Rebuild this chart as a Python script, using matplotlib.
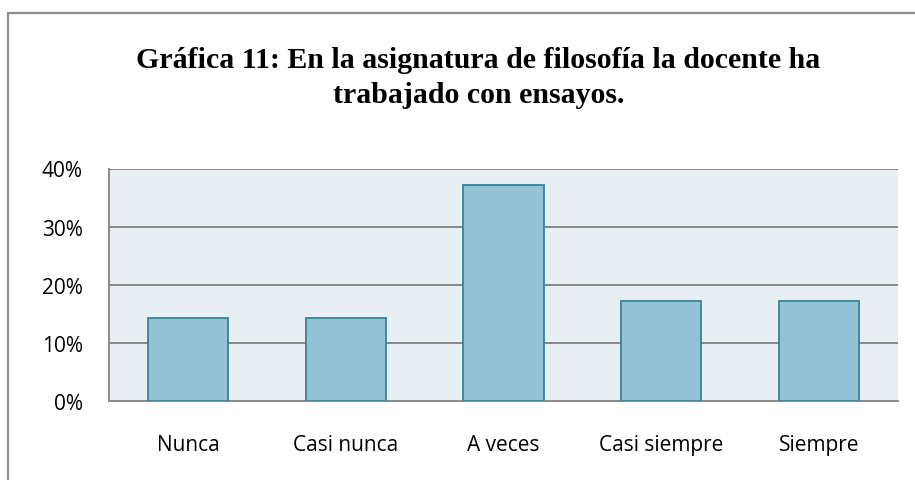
import numpy as np
import matplotlib.pyplot as plt
from matplotlib.patches import Rectangle
from matplotlib.ticker import FuncFormatter

# Data
categories = ["Nunca", "Casi nunca", "A veces", "Casi siempre", "Siempre"]
percent = [14.29, 14.29, 37.14, 17.14, 17.14]
yticks = [0, 10, 20, 30, 40]

fig = plt.figure(figsize=(9.15, 4.81), dpi=100)

# outer frame (only top and left edges visible in the picture)
fig.patches.append(Rectangle((8 / 915, -0.1), 1.2, (481 - 14) / 481 + 0.1,
                             transform=fig.transFigure, fill=False,
                             edgecolor="#8c8c8c", linewidth=1.6))

ax = fig.add_axes([109 / 915, 1 - 402 / 481, (898 - 109) / 915, (402 - 169.5) / 481])
ax.set_facecolor("#E8EFF3")

x = np.arange(len(categories))
ax.bar(x, percent, width=0.507, color="#93C3D4", edgecolor="#31849B",
       linewidth=1.3, zorder=3)

ax.set_xlim(-0.5, len(categories) - 0.5)
ax.set_ylim(0, 40)
ax.set_yticks(yticks)
ax.yaxis.set_major_formatter(FuncFormatter(lambda v, p: f"{v:.0f}%"))
ax.grid(axis="y", color="#878787", linewidth=1.4, zorder=1)
ax.set_axisbelow(True)

for side in ["top", "right"]:
    ax.spines[side].set_visible(False)
for side in ["left", "bottom"]:
    ax.spines[side].set_color("#8c8c8c")
    ax.spines[side].set_linewidth(1.4)

ax.set_xticks(x)
ax.set_xticklabels(categories)
ax.tick_params(axis="both", length=0, labelsize=15, colors="black")
ax.tick_params(axis="x", pad=24)
ax.tick_params(axis="y", pad=19)
for lab in ax.get_xticklabels() + ax.get_yticklabels():
    lab.set_fontfamily("Open Sans")

fig.text(0.523, 1 - 78 / 481,
         "Gráfica 11: En la asignatura de filosofía la docente ha\ntrabajado con ensayos.",
         ha="center", va="center", fontsize=21.5, fontweight="bold",
         family="Liberation Serif", linespacing=1.4)

fig.savefig("out.png", dpi=100)
